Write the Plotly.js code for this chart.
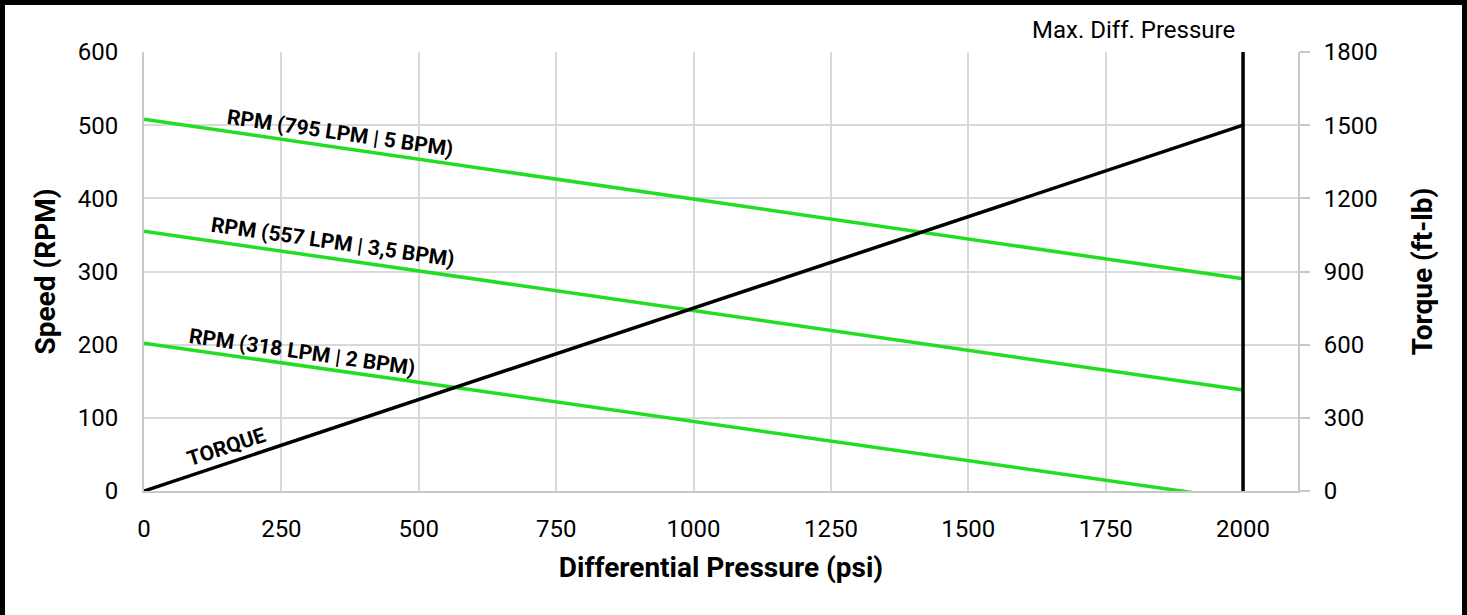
<!DOCTYPE html>
<html>
<head>
<meta charset="utf-8">
<script src="https://cdn.plot.ly/plotly-3.0.1.min.js"></script>
<style>
html,body{margin:0;padding:0;background:#fff;}
#wrap{position:relative;width:1467px;height:615px;}
#chart{width:1467px;height:615px;}
#frame{position:absolute;left:0;top:0;width:1457px;height:615px;border-left:5px solid #000;border-top:5px solid #000;border-right:5px solid #000;box-sizing:content-box;pointer-events:none;}
</style>
</head>
<body>
<div id="wrap"><div id="chart"></div><div id="frame"></div></div>
<script>
// Data
const pressure = [0, 2000];
const rpm795 = [508, 290];
const rpm557 = [355, 138];
const rpm318 = [202, -12];
const torque = [0, 1500];
const maxPressureX = [2000, 2000];
const maxPressureY = [0, 600];
const xTicks = [0, 250, 500, 750, 1000, 1250, 1500, 1750, 2000];
const yTicks = [0, 100, 200, 300, 400, 500, 600];
const y2Ticks = [0, 300, 600, 900, 1200, 1500, 1800];

const labels = [
  {text: 'RPM (795 LPM | 5 BPM)', x: 357, y: 489, angle: 8.2},
  {text: 'RPM (557 LPM | 3,5 BPM)', x: 344, y: 340, angle: 8.2},
  {text: 'RPM (318 LPM | 2 BPM)', x: 288, y: 190, angle: 8.2},
  {text: 'TORQUE', x: 150, y: 60, angle: -18}
];

const green = '#22dd22';
const font = 'Roboto, "DejaVu Sans", sans-serif';

const traces = [
  {x: pressure, y: rpm795, mode: 'lines', line: {color: green, width: 3.5}, name: 'RPM 795'},
  {x: pressure, y: rpm557, mode: 'lines', line: {color: green, width: 3.5}, name: 'RPM 557'},
  {x: pressure, y: rpm318, mode: 'lines', line: {color: green, width: 3.5}, name: 'RPM 318'},
  {x: pressure, y: torque, mode: 'lines', line: {color: '#000', width: 3.5}, yaxis: 'y2', name: 'Torque'},
  {x: maxPressureX, y: maxPressureY, mode: 'lines', line: {color: '#000', width: 3.5}, name: 'Max'}
];

const annotations = labels.map(l => ({
  text: '<b>' + l.text + '</b>', x: l.x, y: l.y, xref: 'x', yref: 'y',
  textangle: l.angle, showarrow: false, font: {family: font, size: 21, color: '#000'}
}));
annotations.push({
  text: 'Max. Diff. Pressure', x: 2000, y: 1, xref: 'x', yref: 'paper', yshift: 22, xshift: -6,
  xanchor: 'right', yanchor: 'middle', showarrow: false, font: {family: font, size: 24, color: '#000'}
});

const tickFont = {family: font, size: 24, color: '#000'};

const layout = {
  width: 1467, height: 615,
  margin: {l: 144, r: 169, t: 52, b: 124},
  paper_bgcolor: '#fff', plot_bgcolor: '#fff',
  showlegend: false,
  font: {family: font, color: '#000', size: 24},
  xaxis: {
    range: [0, 2100], tickvals: xTicks, ticktext: xTicks.map(String),
    showgrid: true, gridcolor: '#d9d9d9', gridwidth: 2,
    showline: true, linecolor: '#c8c8c8', linewidth: 2,
    zeroline: false, ticks: '', ticklabelstandoff: 15,
    tickfont: tickFont,
    title: {text: '<b>Differential Pressure (psi)</b>', font: {family: font, size: 28, color: '#000'}, standoff: 16}
  },
  yaxis: {
    range: [0, 600], tickvals: yTicks, ticktext: yTicks.map(String),
    showgrid: true, gridcolor: '#d9d9d9', gridwidth: 2,
    showline: true, linecolor: '#c8c8c8', linewidth: 2,
    zeroline: false, ticks: '', ticklabelstandoff: 19,
    tickfont: tickFont,
    title: {text: '<b>Speed (RPM)</b>', font: {family: font, size: 28, color: '#000'}, standoff: 14}
  },
  yaxis2: {
    range: [0, 1800], tickvals: y2Ticks, ticktext: y2Ticks.map(String),
    overlaying: 'y', side: 'right', showgrid: false,
    showline: true, linecolor: '#c8c8c8', linewidth: 2,
    zeroline: false, ticks: 'outside', ticklen: 10, tickwidth: 2, tickcolor: '#c8c8c8',
    ticklabelstandoff: 9,
    tickfont: tickFont,
    title: {text: '<b>Torque (ft-lb)</b>', font: {family: font, size: 28, color: '#000'}, standoff: 36}
  },
  annotations: annotations
};

Plotly.newPlot('chart', traces, layout, {displayModeBar: false, staticPlot: true});
</script>
</body>
</html>
